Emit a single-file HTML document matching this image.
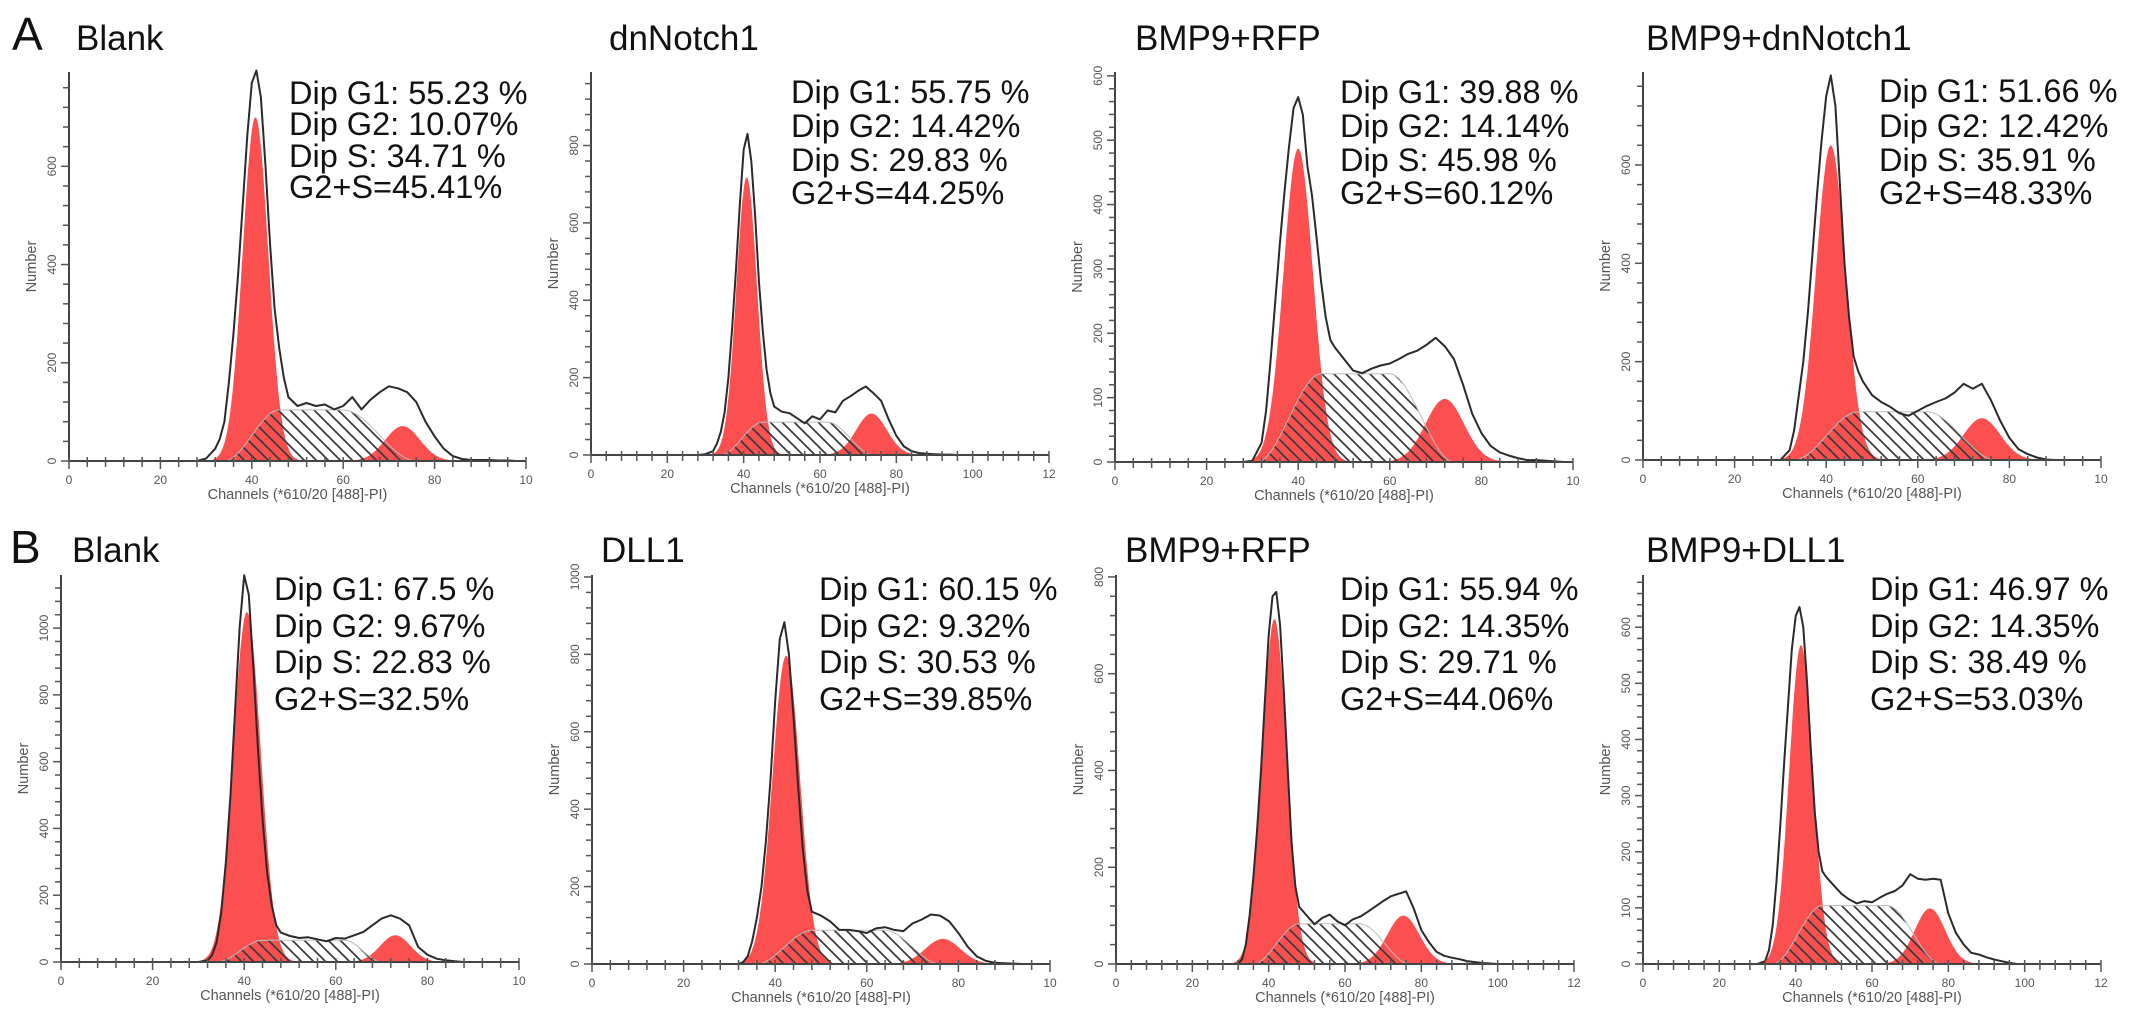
<!DOCTYPE html>
<html>
<head>
<meta charset="utf-8">
<style>
  html,body{margin:0;padding:0;background:#fff;}
  body{width:2150px;height:1016px;overflow:hidden;font-family:"Liberation Sans",Arial,sans-serif;}
  svg{display:block;}
  .ttl{font-size:35px;fill:#111;}
  .panel-letter{font-size:46px;fill:#111;}
  .stat{font-size:32.5px;fill:#111;}
  .tick-lbl{font-size:12px;fill:#555;}
  .axis-title{font-size:14.5px;fill:#555;}
</style>
</head>
<body>
<svg id="fig" width="2150" height="1016" viewBox="0 0 2150 1016" xmlns="http://www.w3.org/2000/svg">
  <defs>
    <pattern id="hatch" patternUnits="userSpaceOnUse" width="12" height="12">
      <path d="M-3,-3 L15,15 M-3,9 L3,15 M9,-3 L15,3" stroke="#3a3a3a" stroke-width="1.7" fill="none"/>
    </pattern>
  </defs>
  <text class="panel-letter" x="12" y="50">A</text>
  <text class="panel-letter" x="10" y="563">B</text>
</svg>
<script>
// ---------- data ----------
const panelTitles = ["Blank","dnNotch1","BMP9+RFP","BMP9+dnNotch1","Blank","DLL1","BMP9+RFP","BMP9+DLL1"];
const statG1 = ["Dip G1: 55.23 %","Dip G1: 55.75 %","Dip G1: 39.88 %","Dip G1: 51.66 %","Dip G1: 67.5 %","Dip G1: 60.15 %","Dip G1: 55.94 %","Dip G1:  46.97 %"];
const statG2 = ["Dip G2: 10.07%","Dip G2: 14.42%","Dip G2: 14.14%","Dip G2: 12.42%","Dip G2: 9.67%","Dip G2: 9.32%","Dip G2: 14.35%","Dip G2:  14.35%"];
const statS  = ["Dip S: 34.71 %","Dip S: 29.83 %","Dip S: 45.98 %","Dip S: 35.91 %","Dip S: 22.83 %","Dip S: 30.53 %","Dip S: 29.71 %","Dip S: 38.49 %"];
const statSum= ["G2+S=45.41%","G2+S=44.25%","G2+S=60.12%","G2+S=48.33%","G2+S=32.5%","G2+S=39.85%","G2+S=44.06%","G2+S=53.03%"];

// channel grid for the measured histogram outline
const channels = [28,30,32,33,34,35,36,37,38,39,40,41,42,43,44,45,46,47,48,50,52,54,56,58,60,62,64,66,68,70,72,74,76,78,80,82,84,86,88,90,92,94,96,98,100];
const totalA1 = [0,5,25,45,80,160,260,380,520,660,770,795,740,600,440,310,230,170,130,112,118,112,115,105,112,130,105,125,140,152,148,140,120,80,50,25,10,4,2,2,2,1,1,0,0];
const totalA2 = [0,2,10,30,60,110,200,330,480,650,790,830,760,620,450,320,220,160,125,112,108,95,82,100,92,115,110,140,152,166,177,160,140,92,50,22,10,5,3,2,1,1,0,0,0];
const totalA3 = [0,2,30,80,160,250,340,420,490,550,567,540,460,415,350,280,225,190,178,160,142,138,145,150,153,160,168,173,182,193,180,160,120,75,45,25,15,10,6,3,3,2,1,0,0];
const totalA4 = [0,0,20,60,130,200,300,420,540,650,740,782,720,560,400,290,210,180,160,132,118,108,95,90,100,110,118,125,137,155,145,155,121,80,45,22,12,5,1,0,0,0,0,0,0];
const totalB1 = [0,0,5,20,60,150,300,500,750,1000,1158,1100,880,640,430,270,170,110,88,78,72,74,68,62,72,70,80,90,110,130,140,130,110,45,22,10,5,2,0,0,0,0,0,0,0];
const totalB2 = [0,0,0,5,20,60,120,200,320,480,680,840,883,800,640,460,300,190,135,125,110,88,88,85,80,92,95,88,85,105,115,128,125,110,80,45,20,8,3,2,1,0,0,0,0];
const totalB3 = [0,0,0,10,40,100,180,280,400,540,680,760,769,700,560,400,250,160,118,100,82,95,102,88,80,92,98,108,119,130,140,145,150,115,70,45,25,17,13,10,6,4,2,1,0];
const totalB4 = [0,0,5,25,70,150,250,360,460,560,620,636,600,500,380,270,200,165,155,140,125,115,108,112,110,118,125,130,140,160,152,150,152,150,90,55,35,20,17,12,8,5,2,0,0];
const totals = [totalA1,totalA2,totalA3,totalA4,totalB1,totalB2,totalB3,totalB4];

// fitted components: G1 [mean, sd, peak], G2 [mean, sd, peak], S [rise, plateauStart, plateauEnd, end, height]
const g1Fit = [[40.8,2.8,700],[40.8,2.7,718],[40.0,3.2,487],[41.0,3.2,640],[40.6,3.0,1048],[42.4,3.0,797],[41.5,3.2,713],[41.4,3.1,568]];
const g2Fit = [[73,3.8,71],[73.5,4,107],[72,4.2,98],[74,4,85],[73,3.3,80],[76.6,3.8,65],[75.3,4.2,100],[75.2,4,99]];
const sFit  = [[34,46,60,76,104],[34,45,62,74,85],[31,45,60,74,137],[33,47,62,77,98],[34,44,62,70,65],[36,48,64,76,87],[36,48,64,77,83],[34,47,64,78,104]];

// axis ranges
const yTopValue = [792,990,606,789,1159,1005,804,693];
const yMajorStep = [200,200,100,200,200,200,200,100];
const xMaxValue = [100,120,100,100,100,100,120,120];

// ---------- layout (pixels) ----------
const layout = [
  {ax:69,  base:461, top:72,  xEnd:526,  tx:76,   ty:50,  sx:289,  sy:[104,135,167,198]},
  {ax:591, base:455, top:72,  xEnd:1049, tx:609,  ty:50,  sx:791,  sy:[103,137,171,204]},
  {ax:1115,base:462, top:72,  xEnd:1573, tx:1135, ty:50,  sx:1340, sy:[103,137,171,204]},
  {ax:1643,base:460, top:72,  xEnd:2101, tx:1646, ty:50,  sx:1879, sy:[102,137,171,204]},
  {ax:61,  base:962, top:575, xEnd:519,  tx:72,   ty:562, sx:274,  sy:[600,637,673,710]},
  {ax:592, base:964, top:575, xEnd:1050, tx:601,  ty:562, sx:819,  sy:[600,637,673,710]},
  {ax:1116,base:964, top:575, xEnd:1574, tx:1125, ty:562, sx:1340, sy:[600,637,673,710]},
  {ax:1643,base:964, top:575, xEnd:2101, tx:1646, ty:562, sx:1870, sy:[600,637,673,710]}
];

const NS = "http://www.w3.org/2000/svg";
const fig = document.getElementById("fig");
function mk(tag, attrs, parent){
  const e = document.createElementNS(NS, tag);
  for (const k in attrs) e.setAttribute(k, attrs[k]);
  (parent||fig).appendChild(e);
  return e;
}
function gauss(x, p){ const d=(x-p[0])/p[1]; return p[2]*Math.exp(-0.5*d*d); }
function smooth(t){ t=Math.max(0,Math.min(1,t)); return t*t*(3-2*t); }
function sVal(x, p){
  if (x<=p[0]||x>=p[3]) return 0;
  if (x<p[1]) return p[4]*smooth((x-p[0])/(p[1]-p[0]));
  if (x<=p[2]) return p[4];
  return p[4]*(1-smooth((x-p[2])/(p[3]-p[2])));
}

for (let i=0;i<8;i++){
  const L = layout[i];
  const xs = v => L.ax + v*(L.xEnd-L.ax)/xMaxValue[i];
  const ys = v => L.base - v*(L.base-L.top)/yTopValue[i];
  const g = mk("g", {});
  
  

  const t = mk("text", {x:L.tx, y:L.ty, class:"ttl"}, g);
  t.textContent = panelTitles[i];
  
  

  let d = "";
  const p1 = g1Fit[i];
  for (let x=p1[0]-4*p1[1]; x<=p1[0]+4*p1[1]+0.001; x+=0.2){
    d += (d?"L":"M") + xs(x).toFixed(1) + "," + ys(gauss(x,p1)).toFixed(1);
  }
  d += "Z";
  const r1 = mk("path", {d:d, fill:"#fb4f50", stroke:"none"}, g);
  
  

  d = "";
  const p2 = g2Fit[i];
  for (let x=p2[0]-4*p2[1]; x<=p2[0]+4*p2[1]+0.001; x+=0.2){
    d += (d?"L":"M") + xs(x).toFixed(1) + "," + ys(gauss(x,p2)).toFixed(1);
  }
  d += "Z";
  const r2 = mk("path", {d:d, fill:"#fb4f50", stroke:"none"}, g);
  
  

  d = "";
  const ps = sFit[i];
  for (let x=ps[0]; x<=ps[3]+0.001; x+=0.25){
    d += (d?"L":"M") + xs(x).toFixed(1) + "," + ys(sVal(x,ps)).toFixed(1);
  }
  d += "Z";
  const sh = mk("path", {d:d, fill:"url(#hatch)", stroke:"#bbb", "stroke-width":"1"}, g);
  
  

  const tot = totals[i];
  let pts = [];
  for (let k=0;k<channels.length;k++){
    if (channels[k] > xMaxValue[i]) break;
    pts.push(xs(channels[k]).toFixed(1)+","+ys(tot[k]).toFixed(1));
  }
  const ln = mk("polyline", {points:pts.join(" "), fill:"none", stroke:"#2a2a2a", "stroke-width":"2", "stroke-linejoin":"round"}, g);
  
  

  const yAx = mk("line", {x1:L.ax, y1:L.top, x2:L.ax, y2:L.base, stroke:"#444", "stroke-width":"2"}, g);
  
  
  const xAx = mk("line", {x1:L.ax, y1:L.base, x2:L.xEnd, y2:L.base, stroke:"#444", "stroke-width":"2"}, g);
  
  

  const minor = yMajorStep[i]/5;
  for (let v=0; v<=yTopValue[i]+0.001; v+=minor){
    const isMaj = Math.abs(v/yMajorStep[i]-Math.round(v/yMajorStep[i]))<1e-6;
    const y = ys(v);
    const tk = mk("line", {x1:L.ax-(isMaj?8:6), y1:y, x2:L.ax, y2:y, stroke:"#555", "stroke-width":"1.5"}, g);
    
    
    if (isMaj){
      const tl = mk("text", {x:L.ax-13, y:y, class:"tick-lbl", "text-anchor":"middle", transform:"rotate(-90 "+(L.ax-13)+" "+y+")"}, g);
      tl.textContent = String(Math.round(v));
      
      
    }
  }
  for (let v=0; v<=xMaxValue[i]; v+=4){
    const x = xs(v);
    const isMaj = v%20===0;
    const tk = mk("line", {x1:x, y1:L.base-4, x2:x, y2:L.base+(isMaj?8:6), stroke:"#555", "stroke-width":"1.5"}, g);
    
    
    if (isMaj){
      let s = String(v);
      if (v>=100 && v===xMaxValue[i]) s = s.slice(0,2);
      const tl = mk("text", {x:x, y:L.base+23, class:"tick-lbl", "text-anchor":"middle"}, g);
      tl.textContent = s;
      
      
    }
  }
  const xt = mk("text", {x:(L.ax+L.xEnd)/2, y:L.base+38, class:"axis-title", "text-anchor":"middle"}, g);
  xt.textContent = "Channels (*610/20 [488]-PI)";
  
  
  const my = (L.top+L.base)/2;
  const yt = mk("text", {x:L.ax-33, y:my, class:"axis-title", "font-size":"13", "text-anchor":"middle", transform:"rotate(-90 "+(L.ax-33)+" "+my+")"}, g);
  yt.textContent = "Number";
  
  

  const stats = [statG1[i], statG2[i], statS[i], statSum[i]];
  const statNames = ['stat-g1','stat-g2','stat-s','stat-g2-plus-s'];
  for (let k=0;k<4;k++){
    const st = mk("text", {x:L.sx, y:L.sy[k], class:"stat", "xml:space":"preserve"}, g);
    st.textContent = stats[k];
    
    
  }
}
</script>
</body>
</html>
